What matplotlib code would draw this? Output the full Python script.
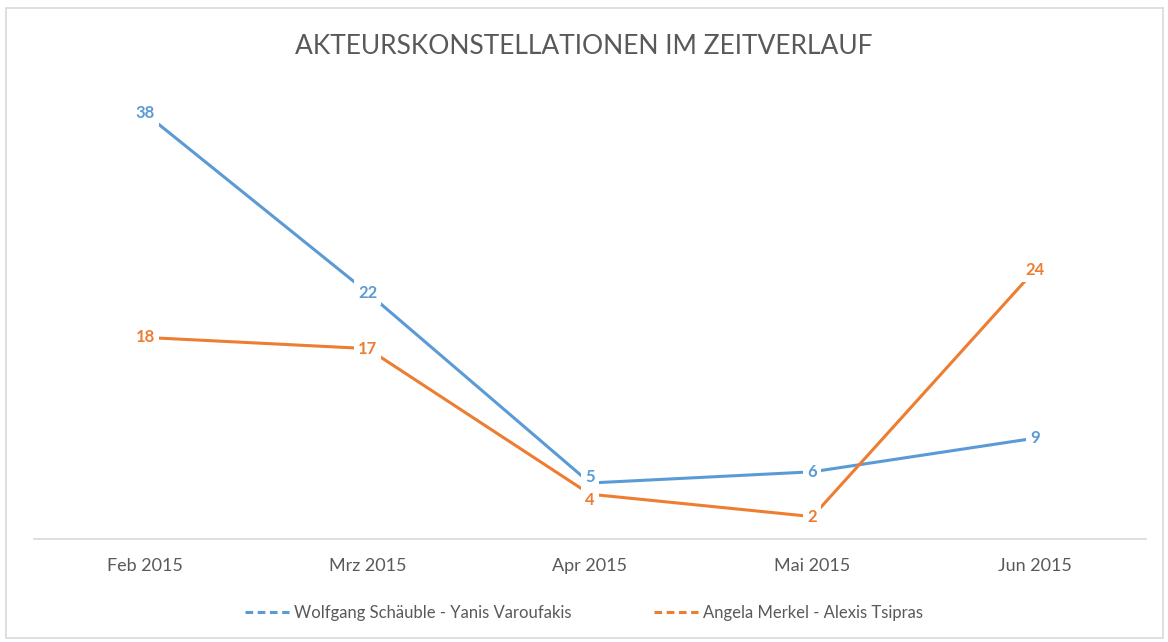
import matplotlib.pyplot as plt
from matplotlib.patches import Rectangle
from matplotlib.lines import Line2D

months = ["Feb 2015", "Mrz 2015", "Apr 2015", "Mai 2015", "Jun 2015"]
schaeuble_varoufakis = [38, 22, 5, 6, 9]
merkel_tsipras = [18, 17, 4, 2, 24]
series_names = ["Wolfgang Schäuble - Yanis Varoufakis", "Angela Merkel - Alexis Tsipras"]

blue = "#5B9BD5"
orange = "#ED7D31"
grey = "#595959"

plt.rcParams['font.family'] = ['Lato', 'DejaVu Sans']

fig = plt.figure(figsize=(11.68, 6.42), dpi=100)
ax = fig.add_axes([34 / 1168, 103 / 642, 1112 / 1168, 448 / 642])

# light frame around the whole chart like the Excel chart area
fig.patches.append(Rectangle((6 / 1168, 4 / 642), 1157 / 1168, 630 / 642,
                             transform=fig.transFigure, fill=False,
                             edgecolor="#D9D9D9", linewidth=1.2))

xs = list(range(len(months)))
ax.plot(xs, schaeuble_varoufakis, color=blue, linewidth=2.2, zorder=2)
ax.plot(xs, merkel_tsipras, color=orange, linewidth=2.2, zorder=2)

box = dict(boxstyle="square,pad=0.25", facecolor="white", edgecolor="none")
for series, col, z in [(schaeuble_varoufakis, blue, 3), (merkel_tsipras, orange, 4)]:
    for x, v in zip(xs, series):
        # Apr labels sit almost on top of each other, push them apart a bit
        dy = 0
        if x == 2:
            dy = 4 if col == blue else -4
        ax.annotate(str(v), (x, v), xytext=(0, dy), textcoords="offset points",
                    color=col, fontsize=12, fontweight="bold",
                    ha="center", va="center", bbox=box, zorder=z)

ax.set_xlim(-0.5, len(months) - 0.5)
ax.set_ylim(0, 40)
ax.set_xticks(xs)
ax.set_xticklabels(months, fontsize=13, color=grey)
ax.tick_params(axis="x", length=0, pad=14)
ax.set_yticks([])
for side in ["left", "right", "top"]:
    ax.spines[side].set_visible(False)
ax.spines["bottom"].set_color("#D9D9D9")
ax.spines["bottom"].set_linewidth(1.2)

fig.text(0.5, 1 - 47 / 642, "AKTEURSKONSTELLATIONEN IM ZEITVERLAUF",
         ha="center", va="center", fontsize=19, color=grey)

handles = [Line2D([], [], color=blue, linewidth=2.2, linestyle=(0, (2.5, 1.5))),
           Line2D([], [], color=orange, linewidth=2.2, linestyle=(0, (2.5, 1.5)))]
fig.legend(handles, series_names, loc="center", bbox_to_anchor=(0.5, 1 - 613 / 642),
           ncol=2, frameon=False, fontsize=12, labelcolor=grey,
           handlelength=2.6, handletextpad=0.3, columnspacing=5)

fig.savefig("out.png", dpi=100)
